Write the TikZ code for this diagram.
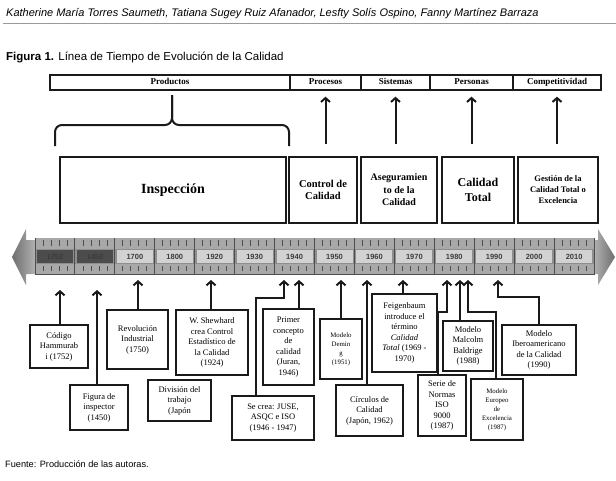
\documentclass[tikz,border=0pt]{standalone}
\usepackage{fontspec}
\setmainfont{Liberation Serif}
\newfontfamily\arialfont{Liberation Sans}
\usetikzlibrary{positioning, arrows.meta, calc}
\definecolor{ink}{HTML}{1A1A1A}
\definecolor{rulegrey}{HTML}{9A9A9A}
\definecolor{barmid}{HTML}{8E8E8E}
\definecolor{barstrip}{HTML}{A8A8A8}
\definecolor{tickgrey}{HTML}{4E4E4E}
\definecolor{lightcell}{HTML}{D2D2D2}
\definecolor{darkcell}{HTML}{4C4C4C}
\definecolor{tipdark}{HTML}{6E6E6E}
\definecolor{tiplight}{HTML}{B4B4B4}

\begin{document}
\begin{tikzpicture}[x=1pt, y=-1pt,
    catbox/.style={draw=ink, line width=1.3pt, fill=white, inner sep=0pt,
                   minimum height=15pt, text height=6.5pt, text depth=2pt,
                   font=\bfseries\fontsize{9}{10}\selectfont},
    stagebox/.style={draw=ink, line width=1.1pt, fill=white, inner sep=1pt,
                     minimum height=66pt, align=center,
                     font=\bfseries\fontsize{10.5}{12.5}\selectfont},
    eventbox/.style={draw=ink, line width=1.3pt, fill=white, inner sep=1pt,
                     align=center, font=\fontsize{8.5}{10.5}\selectfont},
    smallbox/.style={eventbox, font=\fontsize{6.8}{9}\selectfont},
    uparrow/.style={draw=ink, line width=2pt, -{Straight Barb[length=4pt, width=9pt]}},
    bracket/.style={draw=ink, line width=2pt, rounded corners=7pt},
    yearlabel/.style={font=\arialfont\bfseries\fontsize{7.5}{8}\selectfont,
                      text=ink!85, inner sep=0pt}
  ]
  \useasboundingbox (0,0) rectangle (616,480);

  % encabezado
  \node[anchor=west, inner sep=0pt, font=\arialfont\itshape\fontsize{11}{12}\selectfont] (hdr) at (6,14)
    {Katherine María Torres Saumeth, Tatiana Sugey Ruiz Afanador, Lesfty Solís Ospino, Fanny Martínez Barraza};
  \draw[rulegrey, line width=1pt] (3,23) -- (616,23);
  \node[anchor=west, inner sep=0pt, font=\arialfont\fontsize{11.5}{13}\selectfont] (fig) at (6,57)
    {\textbf{Figura 1.} Línea de Tiempo de Evolución de la Calidad};

  % categorias
  \node[catbox, minimum width=240pt] (prod) at (170,82.5) {Productos};
  \node[catbox, minimum width=71pt] (proc) at (325.5,82.5) {Procesos};
  \node[catbox, minimum width=69pt] (sist) at (395.5,82.5) {Sistemas};
  \node[catbox, minimum width=83pt] (pers) at (471.5,82.5) {Personas};
  \node[catbox, minimum width=88pt] (comp) at (557,82.5) {Competitividad};

  % etapas
  \node[stagebox, minimum width=226pt, font=\bfseries\fontsize{14}{16}\selectfont] (insp) at (173,190) {Inspección};
  \node[stagebox, minimum width=68pt] (ctrl) at (323,190) {Control de\\Calidad};
  \node[stagebox, minimum width=76pt, font=\bfseries\fontsize{10}{12.5}\selectfont] (aseg) at (399,190) {Aseguramien\\to de la\\Calidad};
  \node[stagebox, minimum width=72pt, font=\bfseries\fontsize{12}{15}\selectfont] (caltot) at (478,190) {Calidad\\Total};
  \node[stagebox, minimum width=80pt, font=\bfseries\fontsize{8.5}{11}\selectfont] (gest) at (558,190) {Gestión de la\\Calidad Total o\\Excelencia};

  % llave de productos
  \draw[bracket] (55,146) -- (55,125) -- (172,125) -- (172,95);
  \draw[bracket] (289,146) -- (289,125) -- (172,125) -- (172,95);

  \foreach \st/\cat in {ctrl/proc, aseg/sist, caltot/pers, gest/comp}
    \draw[uparrow, shorten <=12pt, shorten >=6pt] (\cat.south |- \st.north) -- (\cat.south);

  % linea de tiempo
  \shade[left color=tipdark, right color=tiplight]
    (36,240) -- (26,240) -- (26,229) -- (12,257) -- (26,285) -- (26,274) -- (36,274) -- cycle;
  \shade[left color=tiplight, right color=tipdark]
    (593,240) -- (598,240) -- (598,229) -- (615,257) -- (598,285) -- (598,274) -- (593,274) -- cycle;
  \node[inner sep=0pt, minimum width=559pt, minimum height=37pt, fill=barstrip] (bar) at (314.5,256.5) {};
  \fill[barmid] (35,249) rectangle (594,264);
  \draw[tickgrey, line width=1pt] (35,274.5) -- (594,274.5);
  \foreach \yr/\cellcol [count=\i from 0] in {1752/darkcell, 1450/darkcell, 1700/lightcell,
      1800/lightcell, 1920/lightcell, 1930/lightcell, 1940/lightcell, 1950/lightcell,
      1960/lightcell, 1970/lightcell, 1980/lightcell, 1990/lightcell, 2000/lightcell, 2010/lightcell}{
    \fill[\cellcol] ({37+39.93*\i},250) rectangle ({73+39.93*\i},263);
    \node[yearlabel] (yr\yr) at ({55+39.93*\i},256.5) {\yr};
    \foreach \t in {8,16,24,32}{
      \draw[tickgrey, line width=0.8pt] ({35+39.93*\i+\t},240) -- ++(0,6);
      \draw[tickgrey, line width=0.8pt] ({35+39.93*\i+\t},266) -- ++(0,5);
    }
    \draw[tickgrey, line width=1pt] ({35+39.93*\i},238) -- ++(0,37);
  }
  \draw[tickgrey, line width=1pt] (594,238) -- ++(0,37);

  % eventos
  \node[eventbox, minimum width=58pt, minimum height=43pt] (codigo) at (59,346.5) {Código\\Hammurab\\i (1752)};
  \node[eventbox, minimum width=58pt, minimum height=45pt] (figura) at (99,407.5) {Figura de\\inspector\\(1450)};
  \node[eventbox, minimum width=61pt, minimum height=59pt] (revol) at (137.5,339.5) {Revolución\\Industrial\\(1750)};
  \node[eventbox, minimum width=72pt, minimum height=65pt] (shew) at (212,342.5) {W. Shewhard\\crea Control\\Estadístico de\\la Calidad\\(1924)};
  \node[eventbox, minimum width=63pt, minimum height=41pt] (divis) at (179.5,400.5) {División del\\trabajo\\(Japón};
  \node[eventbox, minimum width=51pt, minimum height=76pt] (primer) at (288.5,347) {Primer\\concepto\\de\\calidad\\(Juran,\\1946)};
  \node[eventbox, minimum width=82pt, minimum height=44pt] (secrea) at (273,418) {Se crea: JUSE,\\ASQC e ISO\\(1946 - 1947)};
  \node[smallbox, minimum width=42pt, minimum height=60pt] (deming) at (341,349) {Modelo\\Demin\\g\\(1951)};
  \node[eventbox, minimum width=67pt, minimum height=51pt] (circ) at (369.5,410.5) {Círculos de\\Calidad\\(Japón, 1962)};
  \node[eventbox, minimum width=65pt, minimum height=78pt] (feig) at (404.5,333) {Feigenbaum\\introduce el\\término\\\textit{Calidad}\\\textit{Total} (1969 -\\1970)};
  \node[eventbox, minimum width=48pt, minimum height=61pt] (serie) at (442,405.5) {Serie de\\Normas\\ISO\\9000\\(1987)};
  \node[eventbox, minimum width=50pt, minimum height=50pt] (malc) at (468,346) {Modelo\\Malcolm\\Baldrige\\(1988)};
  \node[smallbox, minimum width=52pt, minimum height=61pt] (europ) at (497,409.5) {Modelo\\Europeo\\de\\Excelencia\\(1987)};
  \node[eventbox, minimum width=74pt, minimum height=50pt] (ibero) at (539,350) {Modelo\\Iberoamericano\\de la Calidad\\(1990)};

  % puntas sobre la linea de tiempo
  \coordinate (t1752) at (60,290);
  \coordinate (t1450) at (97,290);
  \coordinate (t1750) at (138,280);
  \coordinate (t1924) at (211,280);
  \coordinate (t1947) at (284,280);
  \coordinate (t1946) at (299,280);
  \coordinate (t1951) at (341,280);
  \coordinate (t1962) at (367,280);
  \coordinate (t1970) at (403,280);
  \coordinate (t1987a) at (447,280);
  \coordinate (t1988) at (460,280);
  \coordinate (t1987b) at (468,280);
  \coordinate (t1990) at (498,280);

  \foreach \ev/\tip in {codigo/t1752, figura/t1450, revol/t1750, shew/t1924, primer/t1946,
      deming/t1951, circ/t1962, feig/t1970, malc/t1988}
    \draw[uparrow] (\tip |- \ev.north) -- (\tip);
  \draw[uparrow] ([xshift=25pt]secrea.north west) -- ++(0,-97) -| (t1947);
  \draw[uparrow] ([xshift=21pt]serie.north west) -- ++(0,-62) -| (t1987a);
  \draw[uparrow] ([xshift=26pt]europ.north west) -- ++(0,-66) -| (t1987b);
  \draw[uparrow] (ibero.north) -- ++(0,-27) -| (t1990);

  \node[anchor=west, inner sep=0pt, font=\arialfont\fontsize{9.2}{11}\selectfont] (src) at (5,464)
    {Fuente: Producción de las autoras.};
\end{tikzpicture}
\end{document}
